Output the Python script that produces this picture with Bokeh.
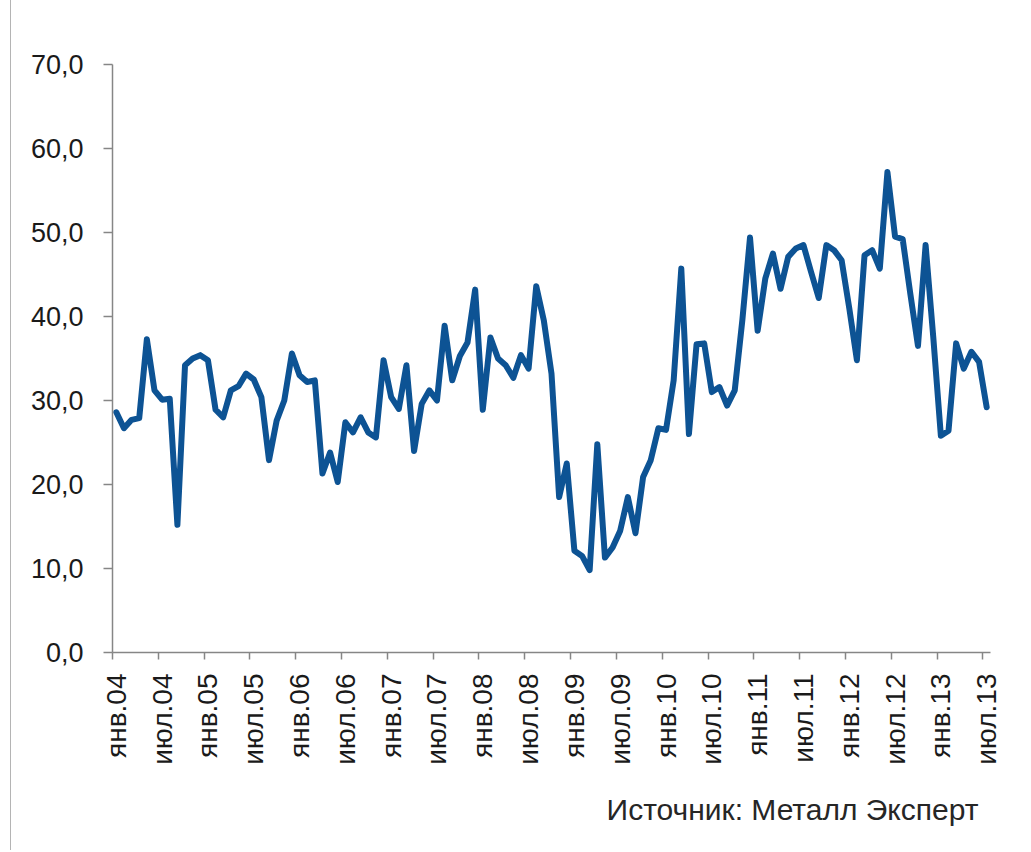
import math
from bokeh.plotting import figure
from bokeh.models import Range1d, FixedTicker, Title, ColumnDataSource
from bokeh.embed import file_html
from bokeh.resources import INLINE

# ---- data ----
month_names = ["янв", "фев", "мар", "апр", "май", "июн",
               "июл", "авг", "сен", "окт", "ноя", "дек"]
years = ["04", "05", "06", "07", "08", "09", "10", "11", "12", "13"]
months = [f"{m}.{y}" for y in years for m in month_names][:115]  # янв.04 .. июл.13

values = [
    28.6, 26.7, 27.7, 27.9, 37.3, 31.2, 30.1, 30.2, 15.2, 34.2, 35.0, 35.4,
    34.8, 28.9, 28.0, 31.2, 31.7, 33.2, 32.5, 30.4, 22.9, 27.6, 30.0, 35.6,
    33.0, 32.2, 32.4, 21.3, 23.8, 20.3, 27.4, 26.2, 28.0, 26.2, 25.6, 34.8,
    30.4, 29.0, 34.2, 24.0, 29.6, 31.2, 30.0, 38.9, 32.4, 35.3, 36.9, 43.2,
    28.9, 37.5, 35.0, 34.2, 32.7, 35.4, 33.8, 43.6, 39.5, 33.2, 18.5, 22.5,
    12.1, 11.5, 9.8, 24.8, 11.3, 12.5, 14.5, 18.5, 14.2, 20.9, 22.9, 26.7,
    26.5, 32.4, 45.7, 26.0, 36.7, 36.8, 31.0, 31.6, 29.4, 31.2, 39.6, 49.4,
    38.3, 44.5, 47.5, 43.3, 47.1, 48.1, 48.5, 45.3, 42.2, 48.5, 47.9, 46.7,
    41.0, 34.8, 47.3, 47.9, 45.7, 57.2, 49.5, 49.2, 42.7, 36.5, 48.5, 37.6,
    25.8, 26.4, 36.8, 33.8, 35.8, 34.6, 29.2,
]

x_tick_labels = ["янв.04", "июл.04", "янв.05", "июл.05", "янв.06", "июл.06",
                 "янв.07", "июл.07", "янв.08", "июл.08", "янв.09", "июл.09",
                 "янв.10", "июл.10", "янв.11", "июл.11", "янв.12", "июл.12",
                 "янв.13", "июл.13"]
y_ticks = [0, 10, 20, 30, 40, 50, 60, 70]
y_tick_labels = ["0,0", "10,0", "20,0", "30,0", "40,0", "50,0", "60,0", "70,0"]
source_text = "Источник: Металл Эксперт"

# ---- figure ----
FONT = "Liberation Sans"
AXIS_GRAY = "#868686"
LINE_BLUE = "#0d5394"
TEXT_COLOR = "#1a1a1a"

idx = list(range(len(values)))
src = ColumnDataSource(data=dict(x=idx, y=values, month=months))

p = figure(width=1012, height=850, output_backend="svg", toolbar_location=None,
           x_range=Range1d(-0.5, len(values) - 0.5), y_range=Range1d(0, 70),
           y_axis_location="left",
           min_border_left=101, min_border_right=33,
           min_border_top=64, min_border_bottom=198)
p.styles = {"margin-left": "10px", "border-left": "1px solid #b4b4b4"}
p.outline_line_color = None
p.xgrid.visible = False
p.ygrid.visible = False
p.background_fill_color = "white"
p.border_fill_color = "white"

p.line("x", "y", source=src, line_color=LINE_BLUE, line_width=6,
       line_join="round", line_cap="round")

# y axis
ya = p.yaxis[0]
ya.ticker = FixedTicker(ticks=y_ticks)
ya.major_label_overrides = {t: l for t, l in zip(y_ticks, y_tick_labels)}
ya.axis_line_color = AXIS_GRAY
ya.axis_line_width = 1.5
ya.major_tick_line_color = AXIS_GRAY
ya.major_tick_line_width = 1.5
ya.major_tick_out = 9
ya.major_tick_in = 0
ya.minor_tick_line_color = None
ya.major_label_standoff = 20
ya.major_label_text_font = FONT
ya.major_label_text_font_size = "27px"
ya.major_label_text_color = TEXT_COLOR

# x axis: labels on category centres, tick marks on category boundaries
label_pos = [i for i in idx if i % 6 == 0]
boundary_ticks = [i - 0.5 for i in label_pos]
xa = p.xaxis[0]
xa.ticker = FixedTicker(ticks=label_pos, minor_ticks=boundary_ticks)
xa.major_label_overrides = {t: l for t, l in zip(label_pos, x_tick_labels)}
xa.axis_line_color = AXIS_GRAY
xa.axis_line_width = 1.5
xa.major_tick_line_color = None
xa.major_tick_out = 7
xa.major_tick_in = 0
xa.minor_tick_line_color = AXIS_GRAY
xa.minor_tick_line_width = 1.5
xa.minor_tick_out = 7
xa.minor_tick_in = 0
xa.major_label_orientation = math.pi / 2
xa.major_label_standoff = 14
xa.major_label_text_font = FONT
xa.major_label_text_font_size = "28px"
xa.major_label_text_color = TEXT_COLOR

# source note below the axis, right-aligned
note = Title(text=source_text, align="right", offset=12, standoff=46,
             text_font=FONT, text_font_size="30px", text_font_style="normal",
             text_color="#262626")
p.add_layout(note, "below")

open("out.html", "w").write(file_html(p, INLINE))
